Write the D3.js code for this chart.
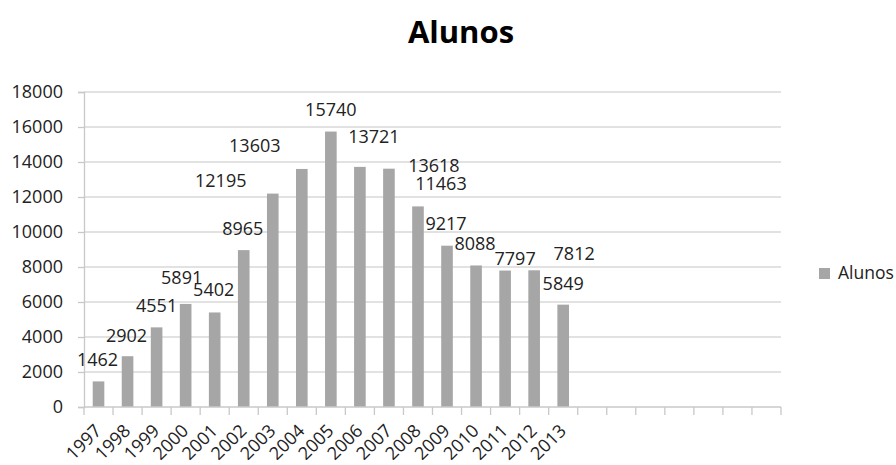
<!DOCTYPE html>
<html>
<head>
<meta charset="utf-8">
<script src="https://cdn.jsdelivr.net/npm/d3@7"></script>
<style>
  body { margin: 0; background: #fff; }
  svg { font-family: "Open Sans", "Noto Sans", sans-serif; }
</style>
</head>
<body>
<svg id="chart" width="896" height="465"></svg>
<script>
// dados
const years = ['1997','1998','1999','2000','2001','2002','2003','2004','2005','2006','2007','2008','2009','2010','2011','2012','2013'];
const alunos = [1462, 2902, 4551, 5891, 5402, 8965, 12195, 13603, 15740, 13721, 13618, 11463, 9217, 8088, 7797, 7812, 5849];
const yTicks = [0, 2000, 4000, 6000, 8000, 10000, 12000, 14000, 16000, 18000];
const slotCount = 24; // o eixo tem espaço para 24 categorias
// deslocamento dos rótulos (layout, não dados)
const labelNudge = [[-1,-15],[-1,-14],[0,-15],[-4,-20],[-1,-16],[-1,-15],[-52,-7],[-47,-17],[0,-16],[14,-24],[45,3],[23,-16],[-1,-16],[-1,-15],[10,-6],[40,-10],[0,-15]];

const svg = d3.select('#chart');
const margin = { left: 84, right: 896 - 781, top: 92, bottom: 465 - 407 };
const plotW = 896 - margin.left - margin.right;
const plotH = 465 - margin.top - margin.bottom;

const x = d3.scaleBand().domain(d3.range(slotCount)).range([0, plotW]).padding(0);
const y = d3.scaleLinear().domain([0, 18000]).range([plotH, 0]);

const g = svg.append('g').attr('transform', `translate(${margin.left},${margin.top})`);

// grade
g.append('g').selectAll('line').data(yTicks.filter(d => d > 0)).enter()
  .append('line')
  .attr('x1', 0).attr('x2', plotW)
  .attr('y1', d => y(d)).attr('y2', d => y(d))
  .attr('stroke', '#d9d9d9').attr('stroke-width', 1.3);

// eixo Y
const yAxis = d3.axisLeft(y).tickValues(yTicks).tickFormat(d3.format('d')).tickSize(6).tickPadding(15);
const yG = g.append('g').call(yAxis);
yG.selectAll('line, path').attr('stroke', '#c8c8c8').attr('stroke-width', 1.3);
yG.selectAll('text').attr('font-size', 18).attr('fill', '#222').attr('font-family', '"Open Sans", sans-serif');

// barras
const barW = x.bandwidth() * 0.4;
g.append('g').selectAll('rect').data(alunos).enter()
  .append('rect')
  .attr('x', (d, i) => x(i) + x.bandwidth() / 2 - barW / 2)
  .attr('y', d => y(d))
  .attr('width', barW)
  .attr('height', d => y(0) - y(d))
  .attr('fill', '#a6a6a6');

// eixo X com marcas nas divisões
const xG = g.append('g').attr('transform', `translate(0,${plotH})`);
xG.append('line').attr('x1', 0).attr('x2', plotW).attr('stroke', '#c8c8c8').attr('stroke-width', 1.3);
xG.selectAll('.tick').data(d3.range(slotCount + 1)).enter()
  .append('line')
  .attr('x1', i => i * x.step()).attr('x2', i => i * x.step())
  .attr('y1', 0).attr('y2', 8)
  .attr('stroke', '#c8c8c8').attr('stroke-width', 1.3);
xG.selectAll('text').data(years).enter()
  .append('text')
  .attr('transform', (d, i) => `translate(${x(i) + x.bandwidth() / 2 + 4},${25}) rotate(-45)`)
  .attr('text-anchor', 'end')
  .attr('font-size', 18)
  .attr('fill', '#222')
  .text(d => d);

// rótulos de dados
g.append('g').selectAll('text').data(alunos).enter()
  .append('text')
  .attr('x', (d, i) => x(i) + x.bandwidth() / 2 + labelNudge[i][0])
  .attr('y', (d, i) => y(d) + labelNudge[i][1])
  .attr('text-anchor', 'middle')
  .attr('font-size', 18)
  .attr('fill', '#222')
  .text(d => d);

// título
svg.append('text')
  .attr('x', 461).attr('y', 43)
  .attr('text-anchor', 'middle')
  .attr('font-size', 31).attr('font-weight', 'bold')
  .attr('fill', '#000')
  .text('Alunos');

// legenda
const leg = svg.append('g').attr('transform', 'translate(819,268)');
leg.append('rect').attr('width', 11).attr('height', 11).attr('fill', '#a6a6a6');
leg.append('text').attr('x', 19).attr('y', 11).attr('font-size', 17.5).attr('fill', '#222').text('Alunos');
</script>
</body>
</html>
